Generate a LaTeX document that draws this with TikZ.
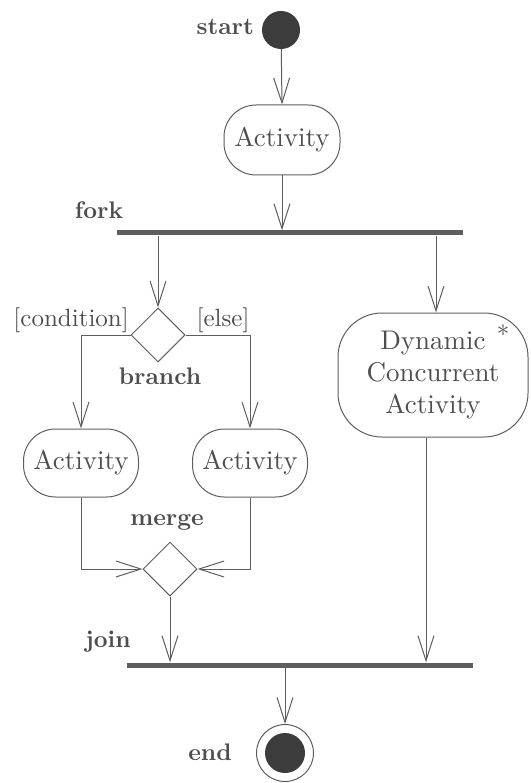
\documentclass[tikz,border=0pt]{standalone}
\usetikzlibrary{arrows.meta,shapes.geometric}
\definecolor{ln}{HTML}{5E5E5E}
\definecolor{tx}{HTML}{4E4E4E}
\definecolor{dk}{HTML}{3C3C3C}
\newcommand\txtA[1]{\scalebox{2.7}{#1}}
\newcommand\txtB[1]{\scalebox{2.4}{\bfseries #1}}
\newcommand\txtC[1]{\scalebox{2.5}{#1}}
\begin{document}
\begin{tikzpicture}[x=1pt,y=-1pt,
  every node/.style={text=tx},
  arr/.style={draw=ln,line width=1pt,-{Straight Barb[length=25pt,width=16pt,line width=1pt]}},
  act/.style={draw=ln,line width=1pt,rounded corners=32pt,minimum width=116pt,minimum height=70pt,inner sep=0pt},
  dec/.style={diamond,draw=ln,line width=1pt,minimum width=54pt,minimum height=54pt,inner sep=0pt},
  bar/.style={fill=ln,minimum height=5pt,inner sep=0pt},
  lbl/.style={inner sep=0pt}]
\useasboundingbox (0,0) rectangle (530,783);
% start
\node[circle,fill=dk,minimum size=38pt,inner sep=0pt] (start) at (281,30) {};
\node[lbl,anchor=east] (lstart) at (254,27) {\txtB{start}};
% first activity
\node[act] (a1) at (282,140) {\txtA{Activity}};
\draw[arr] (start) -- (a1.north);
% fork bar
\node[bar,minimum width=346pt] (fork) at (290,233) {};
\node[lbl] (lfork) at (99,210) {\txtB{fork}};
\draw[arr] (a1.south) -- (a1.south |- fork.north);
% branch
\node[dec] (br) at (158,335) {};
\node[lbl] (lbr) at (160,376) {\txtB{branch}};
\draw[arr] (fork.south -| br.north) -- (br.north);
\node[lbl,anchor=east] (lcond) at (129,320) {\txtC{[condition]}};
\node[lbl] (lelse) at (223,320) {\txtC{[else]}};
% branch activities
\node[act,minimum width=115pt,minimum height=68pt] (a2) at (81,463) {\txtA{Activity}};
\node[act,minimum width=115pt,minimum height=68pt] (a3) at (250,463) {\txtA{Activity}};
\draw[arr] (br.west) -| (a2.north);
\draw[arr] (br.east) -| (a3.north);
% merge
\node[dec] (mg) at (170,569) {};
\node[lbl] (lmg) at (167,522) {\txtB{merge}};
\draw[arr] (a2.south) |- (mg.west);
\draw[arr] (a3.south) |- (mg.east);
% dynamic concurrent activity
\node[act,rounded corners=44pt,minimum width=190pt,minimum height=124pt] (dyn) at (433,375) {\txtA{\begin{tabular}{@{}c@{}}Dynamic\\Concurrent\\Activity\end{tabular}}};
\node[lbl] (star) at (503,334) {\txtC{*}};
\draw[arr] (fork.south -| 436,0) -- ([xshift=3pt]dyn.north);
% join bar
\node[bar,minimum width=346pt] (join) at (300,665) {};
\node[lbl] (ljoin) at (108,642) {\txtB{join}};
\draw[arr] (mg.south) -- (mg.south |- join.north);
\draw[arr] ([xshift=-7pt]dyn.south) -- ([xshift=-7pt]dyn.south |- join.north);
% end
\node[circle,draw=ln,line width=1pt,minimum size=57pt,inner sep=0pt] (end) at (285,753) {};
\node[circle,fill=dk,minimum size=40pt,inner sep=0pt] (endin) at (end) {};
\node[lbl] (lend) at (210,752) {\txtB{end}};
\draw[arr] (join.south -| end.north) -- (end.north);
\end{tikzpicture}
\end{document}
